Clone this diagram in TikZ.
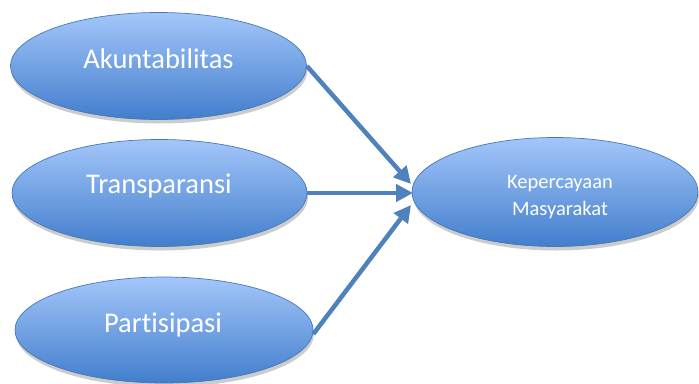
\documentclass[tikz,border=0pt]{standalone}
\usepackage{fontspec}
\setmainfont[Ligatures=NoCommon]{Carlito}
\usetikzlibrary{shapes.geometric,arrows.meta,shadows}
\definecolor{elltop}{RGB}{163,198,250}
\definecolor{ellbot}{RGB}{66,126,204}
\definecolor{ellline}{RGB}{70,120,185}
\definecolor{arrowcol}{RGB}{79,129,189}
\tikzset{
  bubble/.style={ellipse, draw=ellline, line width=0.7pt, top color=elltop, bottom color=ellbot,
    inner sep=0pt,
    drop shadow={shadow xshift=1pt, shadow yshift=-4pt, opacity=0.2, fill=black}},
  bigtext/.style={text=white, anchor=base, inner sep=0pt, font=\fontsize{28.5}{32}\selectfont},
  smalltext/.style={text=white, anchor=base, inner sep=0pt, font=\fontsize{20.5}{26}\selectfont},
  link/.style={draw=arrowcol, line width=4.5pt, -{Triangle[length=17pt,width=17pt]}}
}
\begin{document}
\begin{tikzpicture}[x=1pt,y=-1pt]
\useasboundingbox (0,0) rectangle (699,383);
\node[bubble, minimum width=296pt, minimum height=107pt] (akun) at (158.5,66) {};
\node[bubble, minimum width=295pt, minimum height=107pt] (trans) at (159.5,193) {};
\node[bubble, minimum width=298pt, minimum height=106pt] (part) at (164,330) {};
\node[bubble, minimum width=286pt, minimum height=109pt] (kep) at (555,192) {};
\node[bigtext] (akunT) at (158.5,68) {Akuntabilitas};
\node[bigtext] (transT) at (159,193) {Transparansi};
\node[bigtext] (partT) at (163,332) {Partisipasi};
\node[smalltext] (kepT1) at (560,188) {Kepercayaan};
\node[smalltext] (kepT2) at (560,215) {Masyarakat};
\coordinate (t1) at (411,184);
\coordinate (t2) at (413,193);
\coordinate (t3) at (411,205);
\draw[link] (akun.east) -- (t1);
\draw[link] (trans.east) -- (t2);
\draw[link] (part.east) ++(0,4) -- (t3);
\end{tikzpicture}
\end{document}
